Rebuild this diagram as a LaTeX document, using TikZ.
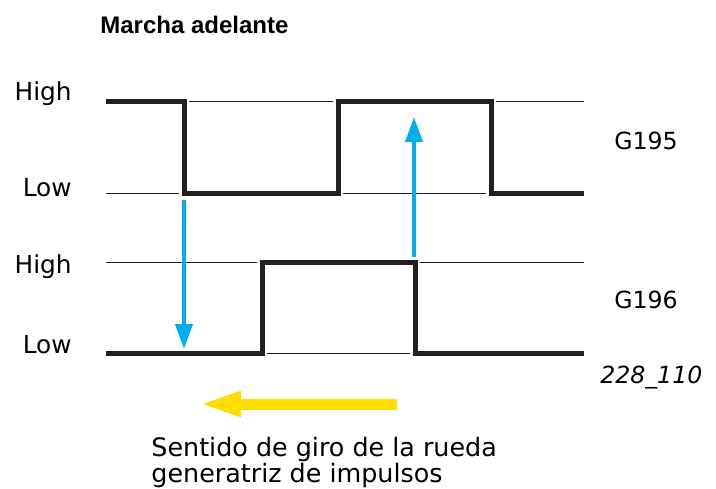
\documentclass[tikz,border=0pt]{standalone}
\usepackage{fontspec}
\setmainfont{DejaVu Sans}
\newfontfamily\headfont{Liberation Sans}
\usepackage{tikz}
\usetikzlibrary{positioning, arrows.meta}
\definecolor{ink}{HTML}{231F20}
\definecolor{pulse}{HTML}{00AEEF}
\definecolor{rotation}{HTML}{FFDD00}
\tikzset{
  level/.style    = {draw=ink, line width=0.5pt},
  signal/.style   = {draw=ink, line width=2.5pt, line join=miter,
                     preaction={draw=white, line width=4.8pt}},
  edge/.style     = {-{Triangle[length=12.5pt,width=8.5pt]}, draw=pulse, line width=2pt},
  turn/.style     = {-{Triangle[length=21pt,width=11.5pt]}, draw=rotation, line width=5.5pt},
  lvl/.style      = {anchor=base east, inner sep=0pt, font=\fontsize{12.4}{14}\selectfont},
  sensor/.style   = {anchor=base west, inner sep=0pt, font=\fontsize{11.8}{14}\selectfont},
}

\begin{document}
\begin{tikzpicture}[x=0.5pt, y=-0.5pt]
  \path[use as bounding box] (0,0) rectangle (716,488);

  \node[anchor=base west, inner sep=0pt, font=\headfont\fontsize{12}{14}\selectfont\bfseries] (title) at (100,33) {Marcha adelante};

  % levels
  \node[lvl] (hi1) at (72,100) {High};
  \node[lvl] (lo1) at (72,196) {Low};
  \node[lvl] (hi2) at (72,273) {High};
  \node[lvl] (lo2) at (72,353) {Low};

  \foreach \y in {101,193,262,353}
    \draw[level] (106,\y) -- (584,\y);

  % G195
  \draw[signal] (106,101) -- (184,101) -- (184,193) -- (338,193) -- (338,101)
                -- (491,101) -- (491,193) -- (584,193);
  % G196
  \draw[signal] (106,353) -- (262,353) -- (262,262) -- (415,262) -- (415,353) -- (584,353);

  \node[sensor] (g195) at (614,149) {G195};
  \node[sensor] (g196) at (614,308) {G196};
  \node[sensor, font=\fontsize{11.8}{14}\selectfont\itshape] (fig) at (600,383) {228\_110};

  \coordinate (fall) at (184,200);
  \coordinate (fallend) at (184,349);
  \coordinate (rise) at (414,257);
  \coordinate (riseend) at (414,117);
  \draw[edge] (fall) -- (fallend);
  \draw[edge] (rise) -- (riseend);

  \coordinate (wheel) at (397,404);
  \coordinate (wheelend) at (199,404);
  \draw[turn] (wheel) -- (wheelend);

  \node[anchor=north west, inner sep=0pt, align=left, font=\fontsize{12.7}{12.8}\selectfont]
       (dir) at (151,437) {Sentido de giro de la rueda\\generatriz de impulsos};
\end{tikzpicture}
\end{document}
